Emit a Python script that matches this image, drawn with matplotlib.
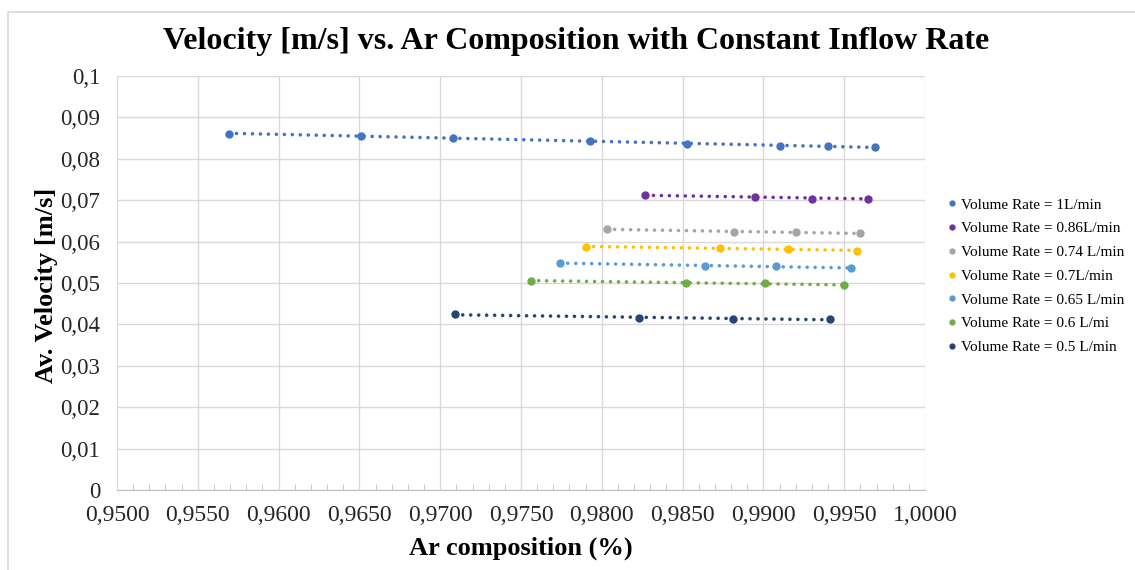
import numpy as np
import matplotlib.pyplot as plt
from matplotlib.ticker import FuncFormatter, MultipleLocator
from matplotlib.lines import Line2D
from matplotlib.patches import Rectangle

# series labels and colours
labels = ["Volume Rate = 1L/min", "Volume Rate = 0.86L/min", "Volume Rate = 0.74 L/min",
          "Volume Rate = 0.7L/min", "Volume Rate = 0.65 L/min", "Volume Rate = 0.6 L/mi",
          "Volume Rate = 0.5 L/min"]
colors = ["#4472C4", "#7030A0", "#A5A5A5", "#FFC000", "#5B9BD5", "#70AD47", "#264478"]

# Ar composition values per series
ar_1 = [0.9569, 0.9651, 0.9708, 0.9793, 0.9853, 0.9910, 0.9940, 0.9969]
ar_086 = [0.9827, 0.9895, 0.9930, 0.9965]
ar_074 = [0.9803, 0.9882, 0.9920, 0.9960]
ar_07 = [0.9790, 0.9873, 0.9915, 0.9958]
ar_065 = [0.9774, 0.9864, 0.9908, 0.9954]
ar_06 = [0.9756, 0.9852, 0.9901, 0.9950]
ar_05 = [0.9709, 0.9823, 0.9881, 0.9941]

# average velocity per series
v_1 = [0.0861, 0.0855, 0.0851, 0.0843, 0.0836, 0.0831, 0.0831, 0.0828]
v_086 = [0.0712, 0.0708, 0.0704, 0.0704]
v_074 = [0.0630, 0.0624, 0.0622, 0.0620]
v_07 = [0.0588, 0.0584, 0.0582, 0.0578]
v_065 = [0.0548, 0.0542, 0.0540, 0.0536]
v_06 = [0.0506, 0.0500, 0.0499, 0.0495]
v_05 = [0.0424, 0.0416, 0.0414, 0.0412]

xs = [ar_1, ar_086, ar_074, ar_07, ar_065, ar_06, ar_05]
ys = [v_1, v_086, v_074, v_07, v_065, v_06, v_05]

plt.rcParams["font.family"] = "Liberation Serif"

fig = plt.figure(figsize=(11.35, 5.7), dpi=100)
ax = fig.add_axes([117 / 1135, 80 / 570, 808 / 1135, 414 / 570])

# outer chart border
fig.patches.append(Rectangle((8 / 1135, -0.1), 1.2, (558 + 57) / 570, transform=fig.transFigure,
                             fill=False, edgecolor="#D9D9D9", linewidth=1.2))

for x, y, c in zip(xs, ys, colors):
    x = np.array(x)
    y = np.array(y)
    k, b = np.polyfit(x, y, 1)
    xl = np.array([x.min(), x.max()])
    ax.plot(xl, k * xl + b, color=c, linewidth=2.6, linestyle=(0, (0.01, 2.2)),
            dash_capstyle="round", zorder=3)
    ax.plot(x, y, "o", color=c, markersize=5, zorder=4)

ax.set_xlim(0.95, 1.0)
ax.set_ylim(0, 0.1)
ax.xaxis.set_major_locator(MultipleLocator(0.005))
ax.xaxis.set_minor_locator(MultipleLocator(0.001))
ax.yaxis.set_major_locator(MultipleLocator(0.01))
ax.xaxis.set_major_formatter(FuncFormatter(lambda v, p: f"{v:.4f}".replace(".", ",")))
ax.yaxis.set_major_formatter(
    FuncFormatter(lambda v, p: "0" if abs(v) < 1e-9 else f"{v:.2f}".rstrip("0").replace(".", ",")))

ax.grid(True, color="#D9D9D9", linewidth=1)
ax.set_axisbelow(True)
for s in ["top", "right", "left"]:
    ax.spines[s].set_visible(False)
ax.spines["bottom"].set_color("#BFBFBF")
ax.tick_params(axis="both", which="major", length=0, labelsize=16.5, labelcolor="#262626")
ax.tick_params(axis="x", which="major", labelsize=17, pad=11)
ax.tick_params(axis="y", which="major", pad=12)
ax.tick_params(axis="x", which="minor", direction="in", length=4, color="#BFBFBF")
ax.tick_params(axis="y", which="minor", length=0)

ax.set_xlabel("Ar composition (%)", fontsize=19, fontweight="bold", va="center")
ax.set_ylabel("Av. Velocity [m/s]", fontsize=19, fontweight="bold", va="center")
ax.xaxis.set_label_coords(0.5, -0.140)
ax.yaxis.set_label_coords(-0.087, 0.495)

fig.text(576 / 1135, 1 - 42 / 570, "Velocity [m/s] vs. Ar Composition with Constant Inflow Rate",
         ha="center", va="center", fontsize=23, fontweight="bold")

handles = [Line2D([], [], marker="o", linestyle="none", color=c, markersize=3.5) for c in colors]
fig.legend(handles, labels, loc="center left", bbox_to_anchor=(940 / 1135, 1 - 276 / 570),
           frameon=False, fontsize=11, handlelength=0.6, handletextpad=0.3, labelspacing=0.66,
           borderpad=0)

fig.savefig("out.png", dpi=100)
